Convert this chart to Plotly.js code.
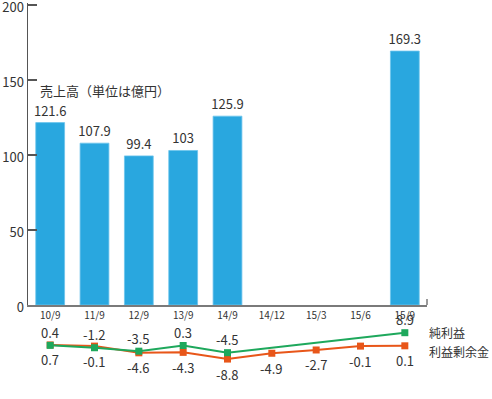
<!DOCTYPE html>
<html>
<head>
<meta charset="utf-8">
<script src="https://cdn.plot.ly/plotly-3.0.1.min.js"></script>
<style>html,body{margin:0;padding:0;background:#fff;}#chart{width:492px;height:399px;}</style>
</head>
<body>
<div id="chart"></div>
<script>
const categories = ['10/9','11/9','12/9','13/9','14/9','14/12','15/3','15/6','15/9'];
const sales = [121.6, 107.9, 99.4, 103, 125.9, null, null, null, 169.3];
const netIncome = [0.4, -1.2, -3.5, 0.3, -4.5, null, null, null, 8.9];
const retainedEarnings = [0.7, -0.1, -4.6, -4.3, -8.8, -4.9, -2.7, -0.1, 0.1];
const yTicks = [0, 50, 100, 150, 200];

const font = '"Noto Sans CJK JP", "Noto Sans", sans-serif';
const fmt = v => (v === null ? '' : String(v));

const data = [
  {
    type: 'bar', x: categories, y: sales, yaxis: 'y',
    marker: {color: '#29a7df', line: {color: '#6cc4ec', width: 0.8}},
    width: 0.65,
    text: sales.map(fmt), textposition: 'outside', cliponaxis: false, constraintext: 'none',
    textfont: {family: font, size: 13, color: '#333'},
    hoverinfo: 'skip'
  },
  {
    type: 'scatter', mode: 'lines+markers', x: categories, y: retainedEarnings, yaxis: 'y2',
    line: {color: '#e85619', width: 2}, marker: {symbol: 'square', size: 7, color: '#e85619'},
    cliponaxis: false, hoverinfo: 'skip'
  },
  {
    type: 'scatter', mode: 'lines+markers', x: categories, y: netIncome, yaxis: 'y2',
    connectgaps: true,
    line: {color: '#1ea85c', width: 2}, marker: {symbol: 'square', size: 7, color: '#1ea85c'},
    cliponaxis: false, hoverinfo: 'skip'
  }
];

const labelAnns = [];
categories.forEach((c, i) => {
  if (netIncome[i] !== null) {
    labelAnns.push({text: fmt(netIncome[i]), x: c, y: netIncome[i], xref: 'x', yref: 'y2',
      yshift: 13, showarrow: false, xanchor: 'center', yanchor: 'middle',
      font: {family: font, size: 13, color: '#333'}});
  }
  if (retainedEarnings[i] !== null) {
    labelAnns.push({text: fmt(retainedEarnings[i]), x: c, y: retainedEarnings[i], xref: 'x', yref: 'y2',
      yshift: -15, showarrow: false, xanchor: 'center', yanchor: 'middle',
      font: {family: font, size: 13, color: '#333'}});
  }
});

const layout = {
  width: 492, height: 399,
  margin: {l: 28, r: 65, t: 3, b: 0},
  paper_bgcolor: '#fff', plot_bgcolor: 'rgba(0,0,0,0)',
  showlegend: false,
  font: {family: font, color: '#333'},
  xaxis: {
    type: 'category', range: [-0.5, 8.5], anchor: 'y',
    showgrid: false, zeroline: false,
    showline: true, linecolor: '#7a7a7a', linewidth: 2,
    ticks: '', tickfont: {family: font, size: 10, color: '#333'},
    fixedrange: true
  },
  yaxis: {
    domain: [0.2374, 0.99874], range: [0, 201],
    tickvals: yTicks, ticktext: yTicks.map(String),
    ticklabeloverflow: 'allow', ticklabelshift: 2,
    showgrid: false, zeroline: false,
    showline: true, linecolor: '#555', linewidth: 1.5,
    ticks: 'inside', ticklen: 9, tickcolor: '#555', tickwidth: 1.5,
    tickfont: {family: font, size: 13, color: '#333'},
    fixedrange: true
  },
  yaxis2: {
    domain: [0, 0.2374], range: [-35.6, 27.5], anchor: 'x',
    visible: false, fixedrange: true
  },
  shapes: [
    {type: 'line', xref: 'paper', yref: 'paper', x0: 1, x1: 1, y0: 0.2374, y1: 0.2374 + 6/396,
     line: {color: '#7a7a7a', width: 1.5}}
  ],
  annotations: [
    {text: '売上高（単位は億円）', xref: 'paper', yref: 'paper', x: 0.024, y: 0.778,
     xanchor: 'left', yanchor: 'middle', showarrow: false,
     font: {family: font, size: 13, color: '#333'}},
    {text: '純利益', xref: 'paper', yref: 'paper', x: 1, y: 0.169, xshift: 0,
     xanchor: 'left', yanchor: 'middle', showarrow: false,
     font: {family: font, size: 12, color: '#333'}},
    {text: '利益剰余金', xref: 'paper', yref: 'paper', x: 1, y: 0.119, xshift: 0,
     xanchor: 'left', yanchor: 'middle', showarrow: false,
     font: {family: font, size: 12, color: '#333'}}
  ].concat(labelAnns)
};

Plotly.newPlot('chart', data, layout, {displayModeBar: false, staticPlot: true});
</script>
</body>
</html>
